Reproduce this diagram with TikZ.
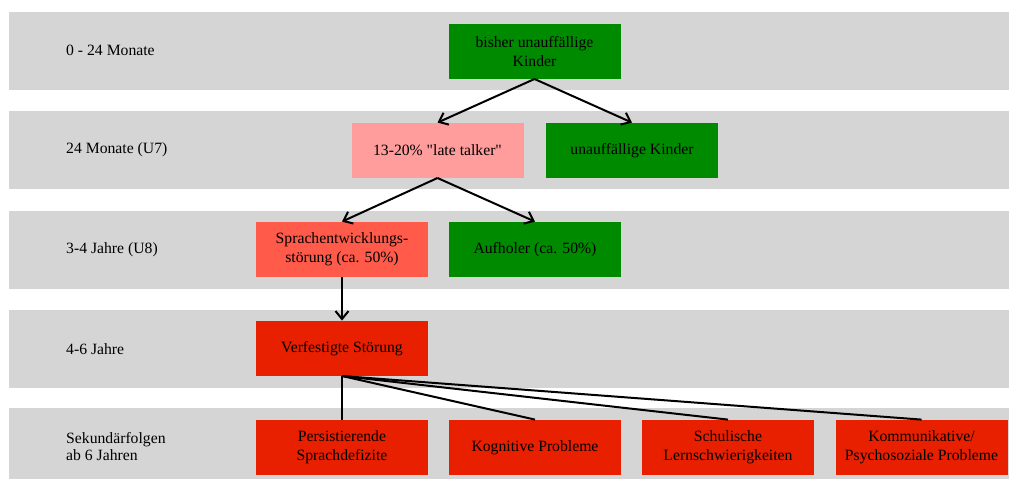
\documentclass[tikz,border=0pt]{standalone}
\usepackage{fontspec}
\setmainfont{Liberation Serif}
\usetikzlibrary{arrows.meta}
\newcommand\straightquote{\XeTeXglyph\XeTeXcharglyph"22\relax}
\definecolor{bandgray}{HTML}{D5D5D5}
\definecolor{okgreen}{HTML}{008A00}
\definecolor{ltpink}{HTML}{FF9C9C}
\definecolor{midred}{HTML}{FF5A4A}
\definecolor{strongred}{HTML}{E82000}
\begin{document}
\begin{tikzpicture}[x=1pt,y=-1pt,
  band/.style={fill=bandgray,draw=none},
  box/.style={draw=none,minimum width=172pt,minimum height=55pt,inner sep=2pt,align=center,
    font=\fontsize{15.7}{18.5}\selectfont},
  lbl/.style={anchor=west,align=left,inner sep=0pt,font=\fontsize{15.7}{17}\selectfont},
  arr/.style={line width=2pt,-{Straight Barb[length=8pt,width=13pt,line width=2pt]}},
  ln/.style={line width=2pt}]
\useasboundingbox (0,0) rectangle (1009,479);
\fill[white] (0,0) rectangle (1009,479);
% bands
\fill[band] (9,12) rectangle (1009,89.5);
\fill[band] (9,111) rectangle (1009,189);
\fill[band] (9,211) rectangle (1009,288.7);
\fill[band] (9,310) rectangle (1009,388);
\fill[band] (9,408) rectangle (1009,479);
% labels
\node[lbl] (l1) at (66,50.7) {0 - 24 Monate};
\node[lbl] (l2) at (66,150) {24 Monate (U7)};
\node[lbl] (l3) at (66,250) {3-4 Jahre (U8)};
\node[lbl] (l4) at (66,349) {4-6 Jahre};
\node[lbl] (l5) at (66,447) {Sekundärfolgen\\ab 6 Jahren};
% boxes
\node[box,fill=okgreen] (b1) at (534.5,51.3) {bisher unauffällige\\Kinder};
\node[box,fill=ltpink] (lt) at (437.5,150.3) {13-20\% \straightquote late talker\straightquote};
\node[box,fill=okgreen] (uk) at (632,150.3) {unauffällige Kinder};
\node[box,fill=midred] (se) at (342,249.3) {Sprachentwicklungs-\\störung (ca. 50\%)};
\node[box,fill=okgreen] (au) at (535,249.3) {Aufholer (ca. 50\%)};
\node[box,fill=strongred] (vs) at (342,348.3) {Verfestigte Störung};
\node[box,fill=strongred] (p1) at (342,447.3) {Persistierende\\Sprachdefizite};
\node[box,fill=strongred] (p2) at (535,447.3) {Kognitive Probleme};
\node[box,fill=strongred] (p3) at (728,447.3) {Schulische\\Lernschwierigkeiten};
\node[box,fill=strongred] (p4) at (921.5,447.3) {Kommunikative/\\Psychosoziale Probleme};
% connectors
\draw[arr] (b1.south) -- (lt.north);
\draw[arr] (b1.south) -- (uk.north);
\draw[arr] (lt.south) -- (se.north);
\draw[arr] (lt.south) -- (au.north);
\draw[arr] (se.south) -- (vs.north);
\draw[ln] (vs.south) -- (p1.north);
\draw[ln] (vs.south) -- (p2.north);
\draw[ln] (vs.south) -- (p3.north);
\draw[ln] (vs.south) -- (p4.north);
\end{tikzpicture}
\end{document}
